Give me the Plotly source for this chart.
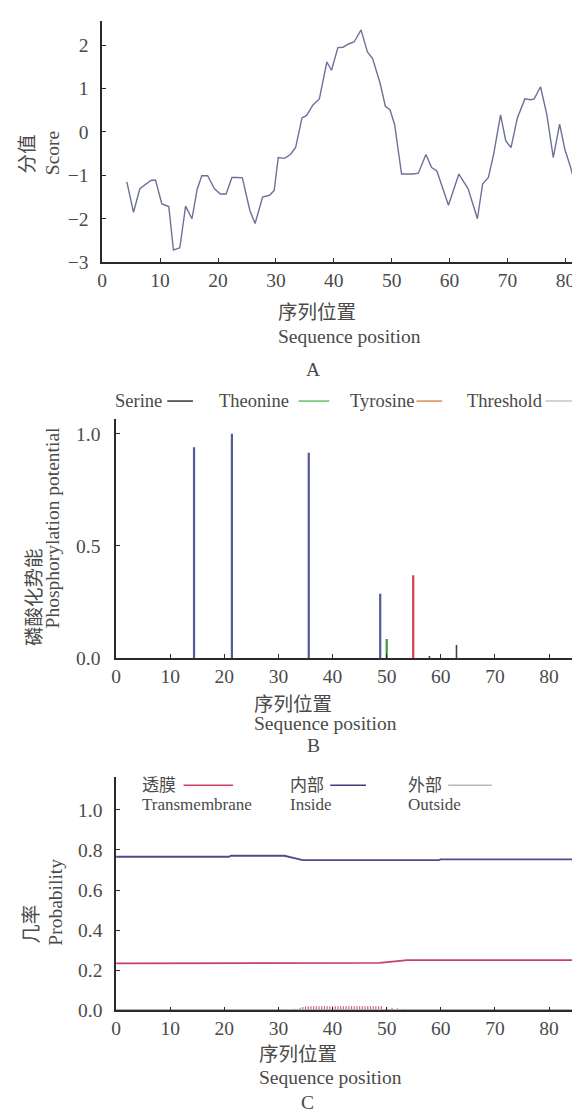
import plotly.graph_objects as go

W, H = 580, 1111

# ---------------- Panel A: hydrophobicity score ----------------
pos_a = [4.25, 5.4, 6.5, 8.4, 9.2, 10.3, 11.5, 12.3, 13.4, 14.4, 15.5, 16.4, 17.2, 18.2,
         19.4, 20.4, 21.4, 22.4, 23.3, 24.2, 25.5, 26.4, 27.7, 28.9, 29.7, 30.4, 31.5,
         32.5, 33.4, 34.5, 35.3, 36.4, 37.5, 38.8, 39.6, 40.7, 41.6, 42.6, 43.5, 44.7,
         45.8, 46.7, 48.0, 48.9, 49.7, 50.5, 51.7, 52.7, 53.7, 54.6, 55.9, 56.9, 57.8,
         59.8, 61.6, 63.2, 64.8, 65.7, 66.7, 67.6, 68.8, 69.7, 70.6, 71.7, 73.0, 74.0,
         74.6, 75.7, 76.8, 77.9, 79.0, 79.9, 80.9, 81.9]
score_a = [-1.15, -1.85, -1.31, -1.12, -1.11, -1.66, -1.72, -2.72, -2.67, -1.71, -2.0,
           -1.32, -1.01, -1.01, -1.31, -1.43, -1.43, -1.05, -1.05, -1.06, -1.81, -2.11,
           -1.5, -1.46, -1.35, -0.59, -0.61, -0.52, -0.36, 0.32, 0.38, 0.62, 0.76, 1.61,
           1.42, 1.94, 1.95, 2.03, 2.07, 2.35, 1.84, 1.69, 1.12, 0.59, 0.51, 0.17, -0.97,
           -0.97, -0.97, -0.95, -0.52, -0.82, -0.9, -1.69, -0.97, -1.31, -2.0, -1.2,
           -1.05, -0.52, 0.39, -0.21, -0.36, 0.32, 0.76, 0.74, 0.76, 1.04, 0.39, -0.59,
           0.18, -0.4, -0.82, -1.31]

# ---------------- Panel B: phosphorylation potential ----------------
serine_pos = [14.4, 21.4, 35.6, 48.8]
serine_val = [0.94, 1.0, 0.915, 0.287]
threonine_pos = [50.0]
threonine_val = [0.086]
tyrosine_pos = [54.9]
tyrosine_val = [0.37]
minor_pos = [57.9, 62.9, 85.2]
minor_val = [0.01, 0.059, 0.02]

# ---------------- Panel C: TMHMM probabilities ----------------
pos_c_in = [0, 20.9, 21.2, 31.1, 34.5, 59.6, 60.0, 85.8]
inside_c = [0.766, 0.766, 0.771, 0.771, 0.749, 0.749, 0.753, 0.753]
pos_c_tm = [0, 20.9, 21.2, 48.7, 53.8, 59.6, 60.0, 85.4]
tm_c = [0.234, 0.234, 0.237, 0.237, 0.25, 0.25, 0.253, 0.25]
pos_c_out = [0, 85.8]
outside_c = [0.003, 0.003]
hatch_pos = [31, 32, 33, 34, 34.5, 35, 35.5, 36, 36.5, 37, 37.5, 38, 38.5, 39, 39.5, 40,
             40.5, 41, 41.5, 42, 42.5, 43, 43.5, 44, 44.5, 45, 45.5, 46, 46.5, 47, 47.5,
             48, 48.5, 49, 50, 51, 52, 53, 54, 55, 56]
hatch_val = [0.005, 0.006, 0.008, 0.012, 0.016, 0.019, 0.02, 0.02, 0.02, 0.02, 0.02, 0.02,
             0.02, 0.02, 0.02, 0.02, 0.02, 0.02, 0.02, 0.02, 0.02, 0.02, 0.02, 0.02, 0.02,
             0.02, 0.02, 0.02, 0.02, 0.02, 0.02, 0.02, 0.02, 0.02, 0.015, 0.012, 0.01,
             0.008, 0.006, 0.005, 0.004]

x_ticks = [0, 10, 20, 30, 40, 50, 60, 70, 80]
a_yticks = [-3, -2, -1, 0, 1, 2]
b_yticks = [0.0, 0.5, 1.0]
c_yticks = [0.0, 0.2, 0.4, 0.6, 0.8, 1.0]

FONT = "Liberation Serif, Noto Sans CJK SC, serif"
TXT = "#4a4a4a"
FS = 19.5


def px(x):
    return x / W


def py(y):
    return 1 - y / H


def stems(xs, vs):
    X, Y = [], []
    for x, v in zip(xs, vs):
        X += [x, x, None]
        Y += [0, v, None]
    return X, Y


fig = go.Figure()

fig.add_trace(go.Scatter(x=pos_a, y=score_a, mode="lines", xaxis="x", yaxis="y",
                         line=dict(color="#6c709a", width=1.4), showlegend=False))

for xs, vs, col, wd in [(serine_pos, serine_val, "#55589a", 2.2),
                        (threonine_pos, threonine_val, "#3c9a3c", 2.2),
                        (tyrosine_pos, tyrosine_val, "#d2404e", 2.2),
                        (minor_pos, minor_val, "#444444", 1.6)]:
    X, Y = stems(xs, vs)
    fig.add_trace(go.Scatter(x=X, y=Y, mode="lines", xaxis="x2", yaxis="y2",
                             line=dict(color=col, width=wd), showlegend=False))

X, Y = stems(hatch_pos, hatch_val)
fig.add_trace(go.Scatter(x=X, y=Y, mode="lines", xaxis="x3", yaxis="y3",
                         line=dict(color="#d05078", width=1.1), showlegend=False))
fig.add_trace(go.Scatter(x=pos_c_out, y=outside_c, mode="lines", xaxis="x3", yaxis="y3",
                         line=dict(color="#b0b0b0", width=1.2), showlegend=False))
fig.add_trace(go.Scatter(x=pos_c_in, y=inside_c, mode="lines", xaxis="x3", yaxis="y3",
                         line=dict(color="#4c4c8c", width=1.8), showlegend=False))
fig.add_trace(go.Scatter(x=pos_c_tm, y=tm_c, mode="lines", xaxis="x3", yaxis="y3",
                         line=dict(color="#c8406a", width=1.8), showlegend=False))

axis_common = dict(showgrid=False, zeroline=False, showline=True, linecolor="#2a2a2a",
                   linewidth=1.5, ticks="inside", ticklen=4, tickcolor="#2a2a2a",
                   tickwidth=1.2, tickfont=dict(family=FONT, size=FS, color=TXT),
                   fixedrange=True)

fig.update_layout(
    width=W, height=H, margin=dict(l=0, r=0, t=0, b=0),
    paper_bgcolor="white", plot_bgcolor="white", showlegend=False,
    xaxis=dict(axis_common, domain=[px(90), 1.0], range=[0, 83.9], anchor="y",
               tickvals=x_ticks, ticklabelstandoff=0),
    yaxis=dict(axis_common, domain=[py(256.7), py(13.3)], range=[-3, 2.55], anchor="x",
               tickvals=a_yticks, ticktext=["\u22123", "\u22122", "\u22121", "0", "1", "2"],
               ticklabelstandoff=8),
    xaxis2=dict(axis_common, domain=[px(104), 1.0], range=[0, 87.2], anchor="y2",
                tickvals=x_ticks, ticklabelstandoff=0),
    yaxis2=dict(axis_common, domain=[py(656.7), py(415)], range=[0, 1.066], anchor="x2",
                tickvals=b_yticks, tickformat=".1f", ticklabelstandoff=10),
    xaxis3=dict(axis_common, domain=[px(104), 1.0], range=[0, 87.2], anchor="y3",
                tickvals=x_ticks, ticklabelstandoff=0),
    yaxis3=dict(axis_common, domain=[py(1012.3), py(776.7)], range=[0, 1.164], anchor="x3",
                tickvals=c_yticks, tickformat=".1f", ticklabelstandoff=8),
)

ann = []


def text(s, x, y, xanchor="center", angle=0, size=FS):
    ann.append(dict(text=s, x=px(x), y=py(y), xref="paper", yref="paper",
                    xanchor=xanchor, yanchor="middle", showarrow=False, textangle=angle,
                    font=dict(family=FONT, size=size, color=TXT)))


# Panel A titles
text("分值", 15, 147, angle=-90)
text("Score", 40, 147, angle=-90)
text("序列位置", 265, 308, xanchor="left")
text("Sequence position", 265, 332, xanchor="left")
text("A", 303, 365)

# Panel B titles
text("磷酸化势能", 21, 595, angle=-90)
text("Phosphorylation potential", 40, 525, angle=-90)
text("序列位置", 241, 703, xanchor="left")
text("Sequence position", 241, 723, xanchor="left")
text("B", 303, 745)

# Panel C titles
text("几率", 19, 925, angle=-90)
text("Probability", 42, 903, angle=-90)
text("序列位置", 246, 1057, xanchor="left")
text("Sequence position", 246, 1080, xanchor="left")
text("C", 297, 1105)

# Panel B legend
shapes = []
leg_b = [("Serine", 100.7, 155.6, 181.5, "#333333"),
         ("Theonine", 206, 288, 319, "#66c066"),
         ("Tyrosine", 338, 407, 433, "#e08a5a"),
         ("Threshold", 455.6, 537, 570, "#c4c4c4")]
for name, tx, l0, l1, col in leg_b:
    text(name, tx, 397, xanchor="left", size=18.5)
    shapes.append(dict(type="line", xref="paper", yref="paper", x0=px(l0), x1=px(l1),
                       y0=py(397), y1=py(397), line=dict(color=col, width=1.5)))

# Panel C legend
leg_c = [("透膜", "Transmembrane", 128, 172, 222, "#d04060"),
         ("内部", "Inside", 277, 320, 356, "#3c3c7c"),
         ("外部", "Outside", 396, 439, 483, "#b8b8b8")]
for zh, en, tx, l0, l1, col in leg_c:
    text(zh, tx, 785, xanchor="left", size=17)
    text(en, tx, 804, xanchor="left", size=17)
    shapes.append(dict(type="line", xref="paper", yref="paper", x0=px(l0), x1=px(l1),
                       y0=py(785), y1=py(785), line=dict(color=col, width=1.5)))

fig.update_layout(annotations=ann, shapes=shapes)

fig.write_html("out.html")
